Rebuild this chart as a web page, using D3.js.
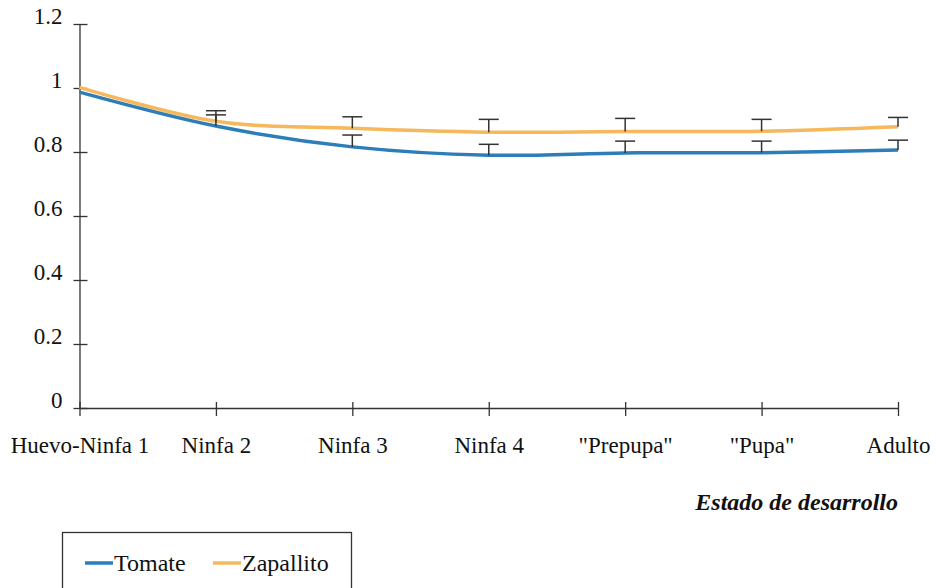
<!DOCTYPE html>
<html>
<head>
<meta charset="utf-8">
<script src="https://cdn.jsdelivr.net/npm/d3@7"></script>
<style>
  body { margin: 0; background: #fff; }
  text { font-family: "Liberation Serif", "Times New Roman", serif; fill: #111; }
</style>
</head>
<body>
<div id="chart"></div>
<script>
// chart values
let categories = ['Huevo-Ninfa 1', 'Ninfa 2', 'Ninfa 3', 'Ninfa 4', '"Prepupa"', '"Pupa"', 'Adulto']
let tomate = [0.987, 0.881, 0.816, 0.79, 0.797, 0.798, 0.806]
let zapallito = [1.002, 0.896, 0.874, 0.862, 0.864, 0.865, 0.879]
let tomateErr = [0, 0.035, 0.037, 0.034, 0.037, 0.036, 0.031]
let zapallitoErr = [0, 0.033, 0.036, 0.04, 0.041, 0.037, 0.029]
let yTicks = [0, 0.2, 0.4, 0.6, 0.8, 1, 1.2]

let width = 936
let height = 588
let blue = '#2c7db8'
let orange = '#f5b85c'
let axisColor = '#333'

let svg = d3
  .select('#chart')
  .append('svg')
  .attr('width', width)
  .attr('height', height)

// scales
let xScale = d3.scalePoint().domain(categories).range([79.5, 898])
let yScale = d3.scaleLinear().domain([0, 1.2]).range([408, 24])

// y axis
let yAxis = svg
  .append('g')
  .attr('transform', 'translate(79.5,0)')
  .call(d3.axisLeft(yScale).tickValues(yTicks).tickFormat(d3.format('')).tickSizeOuter(0))
yAxis.select('.domain').attr('stroke', axisColor).attr('stroke-width', 1.3)
yAxis.selectAll('.tick line').attr('x1', -6).attr('x2', 8).attr('stroke', axisColor).attr('stroke-width', 1.3)
yAxis
  .selectAll('.tick text')
  .attr('x', -17)
  .attr('dy', -1)
  .attr('font-size', 23)
  .attr('fill', '#111')

// x axis
let xAxis = svg
  .append('g')
  .attr('transform', 'translate(0,408)')
  .call(d3.axisBottom(xScale).tickSizeOuter(0))
xAxis.select('.domain').attr('stroke', axisColor).attr('stroke-width', 1.3)
xAxis.selectAll('.tick line').attr('y1', -6).attr('y2', 8).attr('stroke', axisColor).attr('stroke-width', 1.3)
xAxis
  .selectAll('.tick text')
  .attr('y', 45)
  .attr('dy', 0)
  .attr('font-size', 23)
  .attr('fill', '#111')

// axis title
svg
  .append('text')
  .attr('x', 898)
  .attr('y', 510)
  .attr('text-anchor', 'end')
  .attr('font-size', 24)
  .attr('font-weight', 'bold')
  .attr('font-style', 'italic')
  .text('Estado de desarrollo')

// smoothed lines
let line = d3
  .line()
  .x((d, i) => xScale(categories[i]))
  .y(d => yScale(d))
  .curve(d3.curveCatmullRom.alpha(0.5))

let series = [
  { name: 'Zapallito', values: zapallito, err: zapallitoErr, color: orange },
  { name: 'Tomate', values: tomate, err: tomateErr, color: blue }
]

series.forEach(s => {
  svg
    .append('path')
    .datum(s.values)
    .attr('fill', 'none')
    .attr('stroke', s.color)
    .attr('stroke-width', 3.5)
    .attr('d', line)
})

// error bars (upper side only)
series.forEach(s => {
  let g = svg.append('g').attr('stroke', '#333').attr('stroke-width', 1.5)
  s.values.forEach((v, i) => {
    if (s.err[i] <= 0) return
    let x = xScale(categories[i])
    g.append('line')
      .attr('x1', x).attr('x2', x)
      .attr('y1', yScale(v)).attr('y2', yScale(v + s.err[i]))
    g.append('line')
      .attr('x1', x - 10).attr('x2', x + 10)
      .attr('y1', yScale(v + s.err[i])).attr('y2', yScale(v + s.err[i]))
  })
})

// legend
let legend = svg.append('g')
legend
  .append('rect')
  .attr('x', 62.5)
  .attr('y', 532.5)
  .attr('width', 289)
  .attr('height', 70)
  .attr('fill', 'none')
  .attr('stroke', '#333')
  .attr('stroke-width', 1.3)

let legendItems = [
  { name: 'Tomate', color: blue, x: 85 },
  { name: 'Zapallito', color: orange, x: 213 }
]
legendItems.forEach(d => {
  legend
    .append('line')
    .attr('x1', d.x).attr('x2', d.x + 28)
    .attr('y1', 563).attr('y2', 563)
    .attr('stroke', d.color)
    .attr('stroke-width', 3.5)
  legend
    .append('text')
    .attr('x', d.x + 29)
    .attr('y', 571)
    .attr('font-size', 24)
    .text(d.name)
})
</script>
</body>
</html>
